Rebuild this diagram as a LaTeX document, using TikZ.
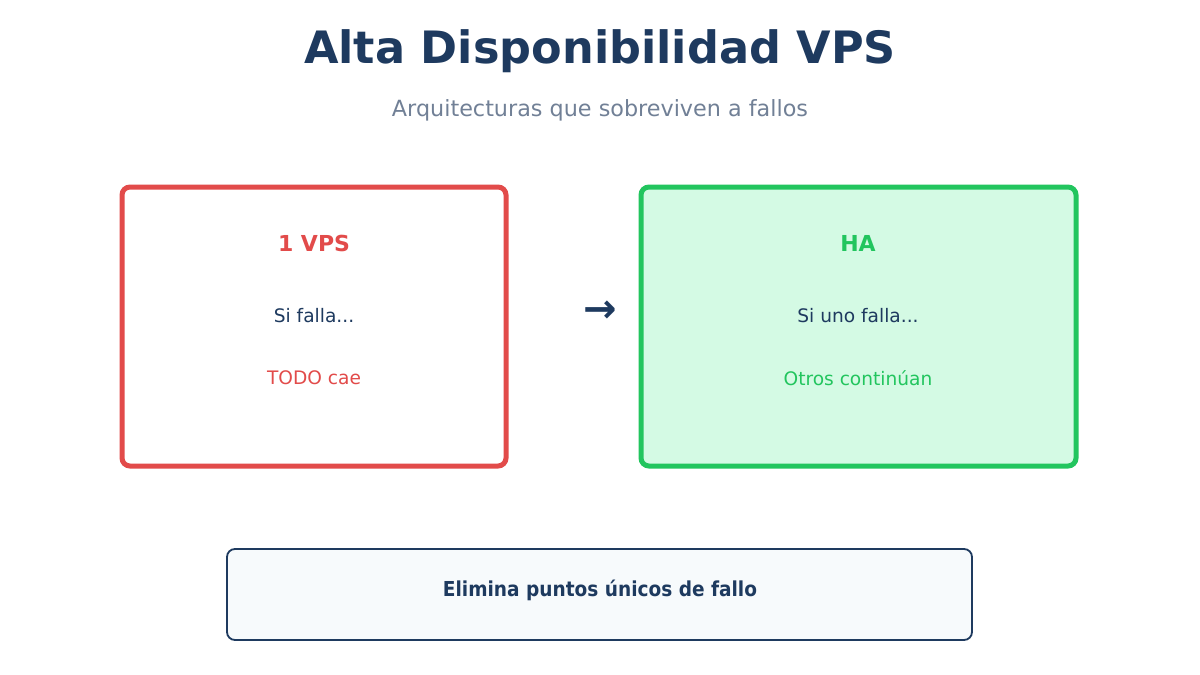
\documentclass[tikz,border=0pt]{standalone}
\usepackage{fontspec}
\setmainfont{DejaVu Sans}
\newfontfamily\condbf{DejaVu Sans Condensed Bold}
\definecolor{navy}{HTML}{1E3A5F}
\definecolor{subgray}{HTML}{718096}
\definecolor{failred}{HTML}{E24B4A}
\definecolor{okgreen}{HTML}{22C55E}
\definecolor{okfill}{HTML}{D4FAE4}
\definecolor{notefill}{HTML}{F7FAFC}
\begin{document}
\begin{tikzpicture}[x=1pt,y=-1pt,
  card/.style={line width=5pt,rounded corners=8pt},
  heading/.style={font=\fontsize{22}{26}\selectfont\bfseries},
  line/.style={font=\fontsize{18.6}{22}\selectfont}]
  \useasboundingbox[fill=white] (0,0) rectangle (1200,675);
  \node[navy,font=\fontsize{44.6}{52}\selectfont\bfseries] (title) at (600,51) {Alta Disponibilidad VPS};
  \node[subgray,font=\fontsize{22.3}{26}\selectfont] (subtitle) at (600,110) {Arquitecturas que sobreviven a fallos};
  \draw[card,failred,fill=white] (122,187) rectangle (506,466);
  \node[heading,failred] (onevps) at (314,243) {1 VPS};
  \node[line,navy] (sifalla) at (314,316) {Si falla...};
  \node[line,failred] (todo) at (314,378) {TODO cae};
  \node[navy,font=\fontsize{40}{46}\selectfont\bfseries] (arrow) at (600,312) {→};
  \draw[card,okgreen,fill=okfill] (641,187) rectangle (1076,466);
  \node[heading,okgreen] (ha) at (858,243) {HA};
  \node[line,navy] (siuno) at (858,316) {Si uno falla...};
  \node[line,okgreen] (otros) at (858,378) {Otros continúan};
  \draw[navy,line width=1.8pt,rounded corners=8pt,fill=notefill] (227,549) rectangle (972,640);
  \node[navy,font=\fontsize{20.6}{24}\condbf] (note) at (600,590) {Elimina puntos únicos de fallo};
\end{tikzpicture}
\end{document}
